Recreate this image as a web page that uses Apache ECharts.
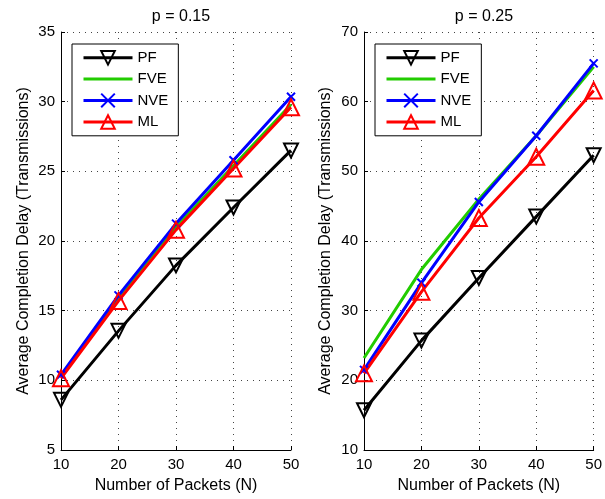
<!DOCTYPE html>
<html><head><meta charset="utf-8">
<script src="https://cdn.jsdelivr.net/npm/echarts@6/dist/echarts.min.js"></script>
<style>html,body{margin:0;padding:0;background:#fff}#c{width:605px;height:499px}</style>
</head><body><div id="c"></div>
<script>
const categories = [10, 20, 30, 40, 50];
const seriesNames = ['PF', 'FVE', 'NVE', 'ML'];
const titles = ['p = 0.15', 'p = 0.25'];
// p = 0.15
const pf15  = [8.6, 13.55, 18.25, 22.4, 26.5];
const fve15 = [10.3, 16.0, 21.0, 25.4, 29.8];
const nve15 = [10.4, 16.1, 21.25, 25.8, 30.35];
const ml15  = [10.15, 15.7, 20.8, 25.2, 29.6];
// p = 0.25
const pf25  = [15.7, 25.7, 34.7, 43.5, 52.3];
const fve25 = [23.2, 35.9, 46.0, 55.1, 65.0];
const nve25 = [21.5, 34.0, 45.6, 55.1, 65.5];
const ml25  = [21.0, 32.7, 43.3, 52.1, 61.6];
const yRanges = [[5, 35, 5], [10, 70, 10]];

const FONT = 'Liberation Sans, Arial, sans-serif';
const colors = {PF:'#000000', FVE:'#22cc00', NVE:'#0000ff', ML:'#ff0000'};
const xPath = 'path://M0,0L10,10M10,0L0,10';
const markerCfg = {
  PF: {symbol:'triangle', symbolRotate:180, symbolSize:14},
  FVE: {symbol:'none'},
  NVE: {symbol:xPath, symbolSize:8},
  ML: {symbol:'triangle', symbolSize:16}
};
const grids = [
  {left:61, right:314, top:32, bottom:48},
  {left:364, right:11, top:32, bottom:48}
];
const yNameGaps = [29, 30];
const dataSets = [[pf15, fve15, nve15, ml15], [pf25, fve25, nve25, ml25]];

const xAxes = [], yAxes = [], series = [], legends = [], titleArr = [];
grids.forEach((g, i) => {
  xAxes.push({
    type:'value', gridIndex:i, min:10, max:50, interval:10,
    name:'Number of Packets (N)', nameLocation:'middle', nameGap:28,
    nameTextStyle:{fontFamily:FONT, fontSize:16, color:'#000'},
    axisLine:{lineStyle:{color:'#000', width:1}},
    axisTick:{inside:true, length:4, lineStyle:{color:'#000'}},
    axisLabel:{fontFamily:FONT, fontSize:15, color:'#000', margin:7},
    splitLine:{show:true, lineStyle:{color:'#444', type:[1,5], width:1}}
  });
  const [mn, mx, iv] = yRanges[i];
  yAxes.push({
    type:'value', gridIndex:i, min:mn, max:mx, interval:iv,
    name:'Average Completion Delay (Transmissions)', nameLocation:'middle', nameGap:yNameGaps[i],
    nameTextStyle:{fontFamily:FONT, fontSize:16, color:'#000'},
    axisLine:{show:true, lineStyle:{color:'#000', width:1}},
    axisTick:{show:true, inside:true, length:4, lineStyle:{color:'#000'}},
    axisLabel:{fontFamily:FONT, fontSize:15, color:'#000', margin:6},
    splitLine:{show:true, lineStyle:{color:'#444', type:[1,5], width:1}}
  });
  titleArr.push({
    text:titles[i], left:g.left + (605 - g.left - g.right) / 2, top:4, textAlign:'center',
    textStyle:{fontFamily:FONT, fontSize:16, fontWeight:'normal', color:'#000'}
  });
  seriesNames.forEach((n, k) => {
    const m = markerCfg[n];
    series.push(Object.assign({
      name:n, type:'line', xAxisIndex:i, yAxisIndex:i,
      data:categories.map((c, j) => [c, dataSets[i][k][j]]),
      lineStyle:{color:colors[n], width:3},
      itemStyle:{color:'rgba(255,255,255,0)', borderColor:colors[n], borderWidth:2},
      showSymbol:true, animation:false, z: k === 1 ? 2 : 3
    }, m));
  });
  legends.push({
    orient:'vertical', left:g.left + 11, top:44,
    data:seriesNames.map(n => n === 'FVE'
      ? {name:n, itemStyle:{color:'rgba(0,0,0,0)', borderColor:'rgba(0,0,0,0)', borderWidth:0}}
      : {name:n}),
    itemWidth:49, itemHeight:17, itemGap:6,
    padding:[6,10,6,10], borderColor:'#000', borderWidth:1, backgroundColor:'#fff',
    lineStyle:{width:3},
    textStyle:{fontFamily:FONT, fontSize:15, color:'#000'},
    selectedMode:false
  });
});

const chart = echarts.init(document.getElementById('c'), null, {renderer:'canvas'});
chart.setOption({
  animation:false,
  title:titleArr, grid:grids, xAxis:xAxes, yAxis:yAxes, legend:legends, series:series
});
</script></body></html>
